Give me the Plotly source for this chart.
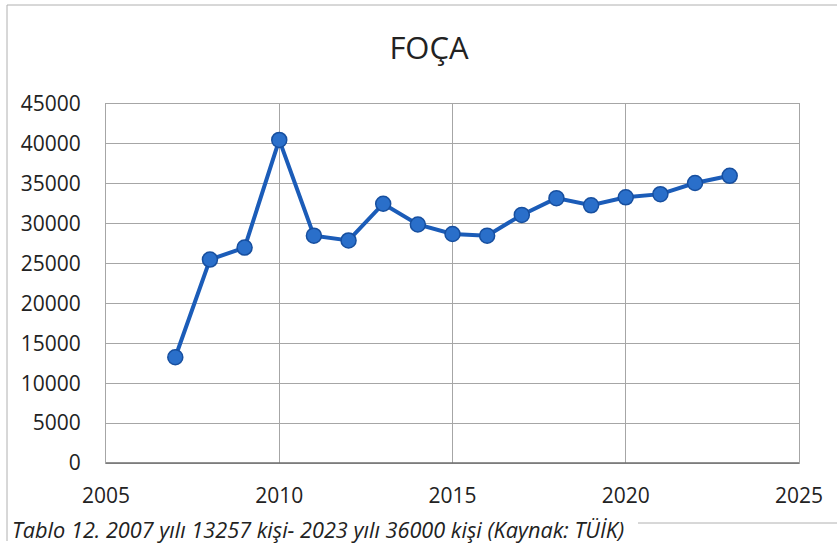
import plotly.graph_objects as go

# Foça nüfusu (TÜİK)
yillar = [2007, 2008, 2009, 2010, 2011, 2012, 2013, 2014, 2015,
          2016, 2017, 2018, 2019, 2020, 2021, 2022, 2023]
nufus = [13257, 25500, 27000, 40500, 28500, 27900, 32500, 29900, 28700,
         28500, 31100, 33200, 32300, 33300, 33700, 35100, 36000]

x_ticks = [2005, 2010, 2015, 2020, 2025]
y_ticks = list(range(0, 45001, 5000))
y_labels = [str(v) for v in y_ticks]

W, H = 837, 545
L, R, T, B = 106, 38, 104, 82
pw, ph = W - L - R, H - T - B


def px(x):
    return (x - L) / pw


def py(y):
    return (H - B - y) / ph


fig = go.Figure()

fig.add_trace(go.Scatter(
    x=yillar,
    y=nufus,
    mode="lines+markers",
    line=dict(color="#1b5cb8", width=4),
    marker=dict(size=15, color="#2a6fca", line=dict(color="#174f9f", width=1.5)),
    showlegend=False,
    cliponaxis=False,
))

grid = "#a6a6a6"

fig.update_layout(
    width=W,
    height=H,
    margin=dict(l=L, r=R, t=T, b=B, autoexpand=False),
    paper_bgcolor="white",
    plot_bgcolor="white",
    font=dict(family="Open Sans", size=21, color="#222222"),
    title=dict(text="FOÇA", xref="paper", x=px(429), xanchor="center",
               y=1 - 48 / H, yanchor="middle",
               font=dict(family="Open Sans", size=31, color="#222222")),
    xaxis=dict(
        range=[2005, 2025],
        tickvals=x_ticks,
        showgrid=True, gridcolor=grid, gridwidth=1,
        showline=True, linecolor=grid, linewidth=1, mirror=True,
        zeroline=False, ticks="", ticklabelstandoff=14, automargin=False,
    ),
    yaxis=dict(
        range=[0, 45000],
        tickvals=y_ticks,
        ticktext=y_labels,
        showgrid=True, gridcolor=grid, gridwidth=1,
        showline=True, linecolor=grid, linewidth=1, mirror=True,
        zeroline=False, ticks="", ticklabelstandoff=20, automargin=False,
    ),
)

# alt eksen çizgisi biraz daha koyu
fig.add_shape(type="line", xref="paper", yref="paper", x0=0, x1=1, y0=0, y1=0,
              line=dict(color="#6e6e6e", width=1.5))

# grafik çerçevesi (taranmış sayfadaki kenarlar)
fig.add_shape(type="line", xref="paper", yref="paper",
              x0=px(7), x1=px(W + 5), y0=py(5), y1=py(5),
              line=dict(color="#b0b0b0", width=1))
fig.add_shape(type="line", xref="paper", yref="paper",
              x0=px(7), x1=px(7), y0=py(5), y1=py(541),
              line=dict(color="#b0b0b0", width=1))
fig.add_shape(type="line", xref="paper", yref="paper",
              x0=px(638), x1=px(W + 5), y0=py(523), y1=py(523),
              line=dict(color="#b0b0b0", width=1))

fig.add_annotation(
    text="<i>Tablo 12. 2007 yılı 13257 kişi- 2023 yılı 36000 kişi (Kaynak: TÜİK)</i>",
    xref="paper", yref="paper", x=px(10), y=py(529),
    xanchor="left", yanchor="middle", showarrow=False,
    font=dict(family="Open Sans", size=21.7, color="#222222"),
)

fig.write_html("out.html", config={"displayModeBar": False},
               post_script="document.body.style.margin='0';")
